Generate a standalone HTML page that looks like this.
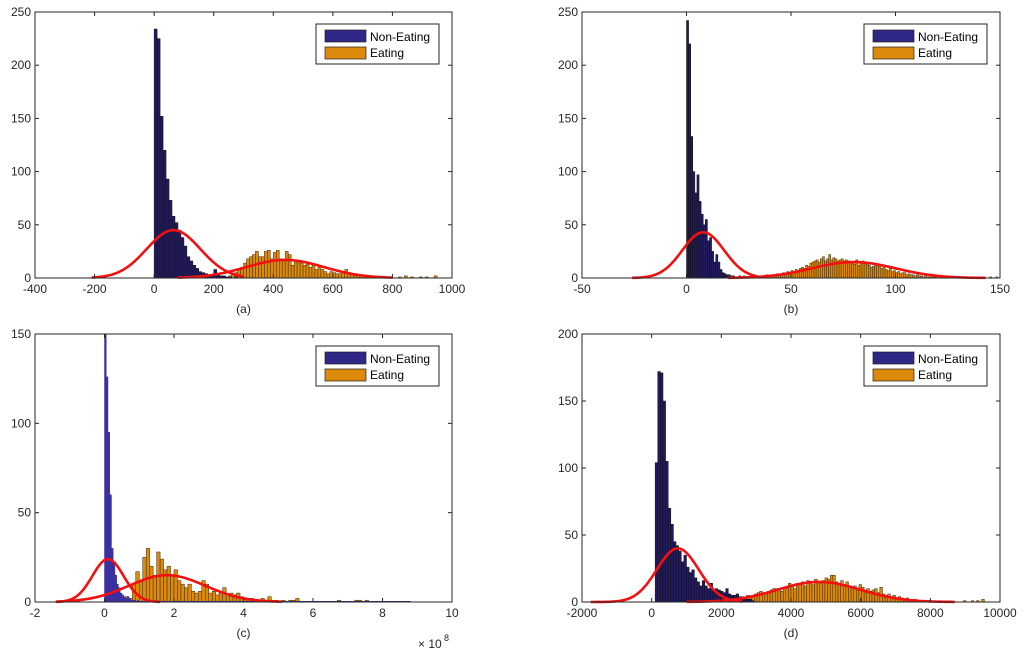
<!DOCTYPE html>
<html><head><meta charset="utf-8"><style>
html,body{margin:0;padding:0;background:#fff;}
svg{display:block;font-family:"Liberation Sans",Arial,sans-serif;}
</style></head><body>
<svg id="fig" width="1024" height="651" viewBox="0 0 1024 651"></svg>
<script>
// ---- panel (a) ----
const aNonStart=0, aNonWidth=10;
const aNonCounts=[234,225,152,120,93,73,58,52,45,38,30,20,16,12,9,6,5,4,3,3,8,3,2,2,1,1,0,1,0,2];
const aEatStart=250, aEatWidth=10;
const aEatCounts=[2,3,5,8,10,14,18,20,22,25,20,20,25,26,18,24,26,18,16,25,22,12,15,15,14,12,13,10,12,8,10,8,6,4,6,5,4,4,6,8,4,3,2,3,2,2,1,2,1,1,1,1,1,0,1,0,0,1,0,2,0,1,0,0,1,0,1,0,0,2];
const aFitMean=[65,440], aFitSigma=[90,130], aFitPeak=[45,17], aFitFrom=[-210,80], aFitTo=[300,800];
const aXTicks=[-400,-200,0,200,400,600,800,1000], aYTicks=[0,50,100,150,200,250];
// ---- panel (b) ----
const bNonStart=0, bNonWidth=1;
const bNonCounts=[242,220,133,100,80,97,72,60,50,55,35,38,25,15,22,15,8,5,4,3,3,2,2,1,1,2,1,1,1,1,1,0,1,0,0,1,0,0,1,0];
const bEatStart=20, bEatWidth=1;
const bEatCounts=[1,0,1,1,0,1,1,2,1,1,0,2,1,1,2,2,1,2,3,2,3,2,3,4,3,4,5,4,6,5,7,6,8,7,9,10,9,12,11,14,15,16,17,15,18,20,16,18,22,17,19,18,16,17,18,16,17,16,15,14,13,17,12,15,16,14,13,12,10,11,13,12,11,9,10,8,7,9,6,7,5,6,4,5,5,3,4,3,3,2,3,2,2,1,2,1,1,2,1,1,0,1,1,2,1,0,1,1,0,1,1,0,0,1,0,1,0,0,1,0,1,0,1,0,0,1,0,0,1,0];
const bFitMean=[8,80], bFitSigma=[10,20], bFitPeak=[43,15], bFitFrom=[-26,20], bFitTo=[34,143];
const bXTicks=[-50,0,50,100,150], bYTicks=[0,50,100,150,200,250];
// ---- panel (c) ----
const cNonStart=0, cNonWidth=0.05;
const cNonCounts=[150,126,95,60,30,22,15,10,8,5,4,3,2,3,2,1,1,1,0,1];
const cEatStart=0.6, cEatWidth=0.1;
const cEatCounts=[3,2,10,17,12,25,30,20,15,28,24,18,20,15,18,12,10,8,10,6,5,6,12,10,5,6,4,5,8,3,5,4,5,3,2,2,2,1,1,2,1,3,1,1,0,1,0,1,1,2,0,0,0,0,0,0,0,0,0,0,0,1,0,0,0,0,1,1,0,1];
const cFitMean=[0.1,1.8], cFitSigma=[0.45,1.1], cFitPeak=[24,15], cFitFrom=[-1.4,-1.4], cFitTo=[1.6,5.1];
const cXTicks=[-2,0,2,4,6,8,10], cYTicks=[0,50,100,150];
// ---- panel (d) ----
const dNonStart=100, dNonWidth=75;
const dNonCounts=[104,172,171,150,105,70,58,45,42,38,30,35,26,22,24,18,15,12,16,12,10,14,8,10,9,8,7,10,6,5,5,6,4,3,3,2,2,1];
const dEatStart=1000, dEatWidth=75;
const dEatCounts=[0,0,0,0,0,0,0,0,0,1,0,1,1,1,2,1,2,2,3,2,3,4,3,5,4,5,6,7,8,7,6,8,9,10,10,9,8,11,10,14,12,10,14,13,15,12,16,14,13,17,15,14,16,18,17,20,20,15,14,16,13,15,12,11,12,10,13,11,9,10,8,9,10,7,11,6,5,6,4,5,3,4,3,2,3,2,1,2,1,1,1,1,0,1,0,0,0,0,0,0,0,0,0,0,0,0,1,0,0,1,0,1,0,2];
const dFitMean=[750,4800], dFitSigma=[600,1200], dFitPeak=[40,15], dFitFrom=[-1750,1000], dFitTo=[2600,8700];
const dXTicks=[-2000,0,2000,4000,6000,8000,10000], dYTicks=[0,50,100,150,200];

const NS="http://www.w3.org/2000/svg";
const svg=document.getElementById('fig');
function mk(tag,attrs,parent){const e=document.createElementNS(NS,tag);for(const k in attrs)e.setAttribute(k,attrs[k]);(parent||svg).appendChild(e);return e;}

function panel(p){
  const g=mk('g',{});
  
  
  const xs=v=>p.L+(v-p.xmin)/(p.xmax-p.xmin)*(p.R-p.L);
  const ys=v=>p.B-(v-p.ymin)/(p.ymax-p.ymin)*(p.B-p.T);
  mk('rect',{x:p.L,y:p.T,width:p.R-p.L,height:p.B-p.T,fill:'#fff'},g);
  // bars
  function bars(start,w,counts,fill,stroke,name){
    const bg=mk('g',{},g);
    
    
    counts.forEach((c,i)=>{
      const x0=xs(start+i*w),x1=xs(start+(i+1)*w);
      const r=mk('rect',{x:x0,y:ys(c),width:Math.max(x1-x0,0.3),height:p.B-ys(c),fill:fill,stroke:stroke,'stroke-width':0.5},bg);
      
      
    });
  }
  bars(p.eS,p.eW,p.eC,'#dc8a0c','#3a2a10','eating-histogram');
  bars(p.nS,p.nW,p.nC,p.nFill,p.nStroke,'non-eating-histogram');
  if(p.id==='c'){const ln=mk('line',{x1:xs(0),x2:xs(8.8),y1:p.B-0.5,y2:p.B-0.5,stroke:'#3a30a0','stroke-width':1},g);}
  // fits
  for(let k=0;k<2;k++){
    let d='';const n=120;
    for(let i=0;i<=n;i++){
      const x=p.fF[k]+(p.fT[k]-p.fF[k])*i/n;
      const y=p.fP[k]*Math.exp(-0.5*Math.pow((x-p.fM[k])/p.fS[k],2));
      d+=(i?'L':'M')+xs(x).toFixed(2)+','+ys(y).toFixed(2);
    }
    const path=mk('path',{d:d,fill:'none',stroke:'#f21010','stroke-width':2.6},g);
    
    
  }
  // axes box
  mk('rect',{x:p.L,y:p.T,width:p.R-p.L,height:p.B-p.T,fill:'none',stroke:'#262626','stroke-width':1},g);
  p.xt.forEach(t=>{
    const x=xs(t);
    mk('line',{x1:x,x2:x,y1:p.B,y2:p.B-4,stroke:'#262626'},g);
    mk('line',{x1:x,x2:x,y1:p.T,y2:p.T+4,stroke:'#262626'},g);
    const tx=mk('text',{x:x,y:p.B+15,'font-size':12,'text-anchor':'middle',fill:'#262626'},g);
    tx.textContent=t;
    
    
  });
  p.yt.forEach(t=>{
    const y=ys(t);
    mk('line',{x1:p.L,x2:p.L+4,y1:y,y2:y,stroke:'#262626'},g);
    mk('line',{x1:p.R,x2:p.R-4,y1:y,y2:y,stroke:'#262626'},g);
    const tx=mk('text',{x:p.L-4,y:y+4,'font-size':12,'text-anchor':'end',fill:'#262626'},g);
    tx.textContent=t;
    
    
  });
  const cap=mk('text',{x:(p.L+p.R)/2,y:p.B+35,'font-size':12,'text-anchor':'middle',fill:'#262626'},g);
  cap.textContent='('+p.id+')';
  
  
  if(p.id==='c'){
    const ex=mk('text',{x:p.R-34,y:p.B+46,'font-size':12,fill:'#262626'},g);
    ex.textContent='× 10';
    
    
    const sup=mk('text',{x:p.R-8,y:p.B+39,'font-size':9,fill:'#262626'},g);
    sup.textContent='8';
    
    
  }
  // legend
  const lg=mk('g',{},g);
  
  
  const lx=p.R-136,ly=p.T+12;
  mk('rect',{x:lx,y:ly,width:123,height:40,fill:'#fff',stroke:'#262626','stroke-width':1},lg);
  mk('rect',{x:lx+9,y:ly+6,width:41,height:12,fill:'#2f2785',stroke:'#222','stroke-width':0.7},lg);
  mk('rect',{x:lx+9,y:ly+23,width:41,height:12,fill:'#dc8a0c',stroke:'#222','stroke-width':0.7},lg);
  const t1=mk('text',{x:lx+54,y:ly+17,'font-size':12,fill:'#000'},lg);t1.textContent='Non-Eating';
  
  
  const t2=mk('text',{x:lx+54,y:ly+33,'font-size':12,fill:'#000'},lg);t2.textContent='Eating';
  
  
}
panel({id:'a',L:35,R:452,T:12,B:278,xmin:-400,xmax:1000,ymin:0,ymax:250,xt:aXTicks,yt:aYTicks,
  nS:aNonStart,nW:aNonWidth,nC:aNonCounts,eS:aEatStart,eW:aEatWidth,eC:aEatCounts,nFill:'#221a5e',nStroke:'#111',
  fM:aFitMean,fS:aFitSigma,fP:aFitPeak,fF:aFitFrom,fT:aFitTo});
panel({id:'b',L:582,R:1000,T:12,B:278,xmin:-50,xmax:150,ymin:0,ymax:250,xt:bXTicks,yt:bYTicks,
  nS:bNonStart,nW:bNonWidth,nC:bNonCounts,eS:bEatStart,eW:bEatWidth,eC:bEatCounts,nFill:'#221a5e',nStroke:'#111',
  fM:bFitMean,fS:bFitSigma,fP:bFitPeak,fF:bFitFrom,fT:bFitTo});
panel({id:'c',L:35,R:452,T:334,B:602,xmin:-2,xmax:10,ymin:0,ymax:150,xt:cXTicks,yt:cYTicks,
  nS:cNonStart,nW:cNonWidth,nC:cNonCounts,eS:cEatStart,eW:cEatWidth,eC:cEatCounts,nFill:'#3a30a0',nStroke:'#3a30a0',
  fM:cFitMean,fS:cFitSigma,fP:cFitPeak,fF:cFitFrom,fT:cFitTo});
panel({id:'d',L:582,R:1000,T:334,B:602,xmin:-2000,xmax:10000,ymin:0,ymax:200,xt:dXTicks,yt:dYTicks,
  nS:dNonStart,nW:dNonWidth,nC:dNonCounts,eS:dEatStart,eW:dEatWidth,eC:dEatCounts,nFill:'#221a5e',nStroke:'#111',
  fM:dFitMean,fS:dFitSigma,fP:dFitPeak,fF:dFitFrom,fT:dFitTo});
</script>
</body></html>
